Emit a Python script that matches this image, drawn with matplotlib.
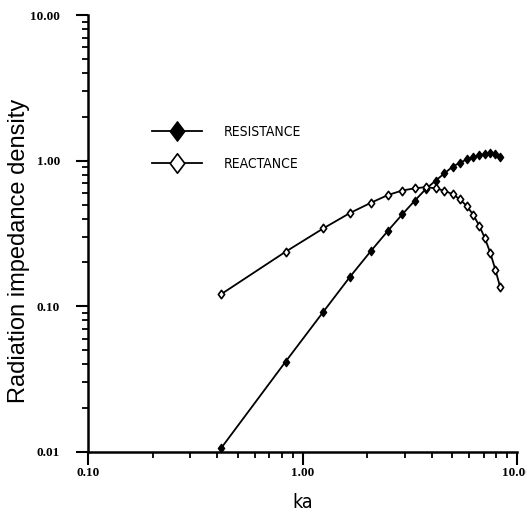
import matplotlib
matplotlib.use("Agg")
import matplotlib.pyplot as plt
import matplotlib.ticker as mticker
from matplotlib.path import Path
from matplotlib.lines import Line2D
import numpy as np

ka = [0.417, 0.834, 1.251, 1.668, 2.085, 2.502, 2.919, 3.336, 3.753, 4.17,
      4.587, 5.004, 5.421, 5.838, 6.255, 6.672, 7.089, 7.506, 7.923, 8.34]
resistance = [0.0106, 0.0417, 0.0918, 0.160, 0.240, 0.330, 0.428, 0.531, 0.638, 0.728,
              0.818, 0.908, 0.968, 1.02, 1.06, 1.09, 1.11, 1.12, 1.11, 1.06]
reactance = [0.121, 0.237, 0.343, 0.438, 0.514, 0.581, 0.624, 0.646, 0.658, 0.646,
             0.621, 0.590, 0.542, 0.488, 0.424, 0.357, 0.293, 0.233, 0.179, 0.136]
labels = ["RESISTANCE", "REACTANCE"]
xlabel = "ka"
ylabel = "Radiation impedance density"

diamond = Path([(0, 1), (0.75, 0), (0, -1), (-0.75, 0), (0, 1)],
               [Path.MOVETO, Path.LINETO, Path.LINETO, Path.LINETO, Path.CLOSEPOLY])

fig = plt.figure(figsize=(5.26, 5.16), dpi=100)
ax = fig.add_axes([88/526, 1-452/516, (517-88)/526, (452-15)/516])

ax.plot(ka, resistance, color="black", lw=1.3, marker=diamond, ms=6,
        mfc="black", mec="black", label=labels[0], clip_on=False, zorder=3)
ax.plot(ka, reactance, color="black", lw=1.3, marker=diamond, ms=6,
        mfc="white", mec="black", mew=1.2, label=labels[1], clip_on=False, zorder=3)

ax.set_xscale("log")
ax.set_yscale("log")
ax.set_xlim(0.1, 10)
ax.set_ylim(0.01, 10)

for s in ["top", "right"]:
    ax.spines[s].set_visible(False)
for s in ["left", "bottom"]:
    ax.spines[s].set_linewidth(1.8)

fmt = mticker.FuncFormatter(lambda v, p: f"{v:.2f}")
ax.xaxis.set_major_formatter(fmt)
ax.yaxis.set_major_formatter(fmt)
ax.xaxis.set_minor_formatter(mticker.NullFormatter())
ax.yaxis.set_minor_formatter(mticker.NullFormatter())
ax.xaxis.set_major_locator(mticker.LogLocator(base=10, numticks=10))
ax.yaxis.set_major_locator(mticker.LogLocator(base=10, numticks=10))
ax.xaxis.set_minor_locator(mticker.LogLocator(base=10, subs=np.arange(2, 10), numticks=20))
ax.yaxis.set_minor_locator(mticker.LogLocator(base=10, subs=np.arange(2, 10), numticks=20))

ax.tick_params(axis="both", which="major", direction="out", length=9, width=1.5,
               labelsize=9.5)
ax.tick_params(axis="x", which="major", pad=2)
ax.tick_params(axis="y", which="major", pad=11)
ax.tick_params(axis="both", which="minor", direction="out", length=4.5, width=1.3)
for lab in ax.get_xticklabels() + ax.get_yticklabels():
    lab.set_family("Liberation Serif")
    lab.set_fontweight("bold")

ax.set_xlabel(xlabel, fontsize=14, family="DejaVu Sans", fontstretch="condensed")
ax.xaxis.set_label_coords(0.5, (452-493)/437)
ax.set_ylabel(ylabel, fontsize=17, family="Liberation Sans")
ax.yaxis.set_label_coords((30-88)/429, (452-251)/437)

h1 = Line2D([], [], color="black", lw=1.3, marker=diamond, ms=14, mfc="black", mec="black")
h2 = Line2D([], [], color="black", lw=1.3, marker=diamond, ms=14, mfc="white", mec="black", mew=1.2)
leg = ax.legend([h1, h2], labels, loc="upper left",
                bbox_to_anchor=((146-88)/429, 1-(119-15)/437),
                frameon=False, handlelength=3.6, handletextpad=1.6,
                labelspacing=1.35, borderaxespad=0,
                prop={"family": "DejaVu Sans", "stretch": "condensed", "size": 10})

fig.savefig("out.png", dpi=100)
